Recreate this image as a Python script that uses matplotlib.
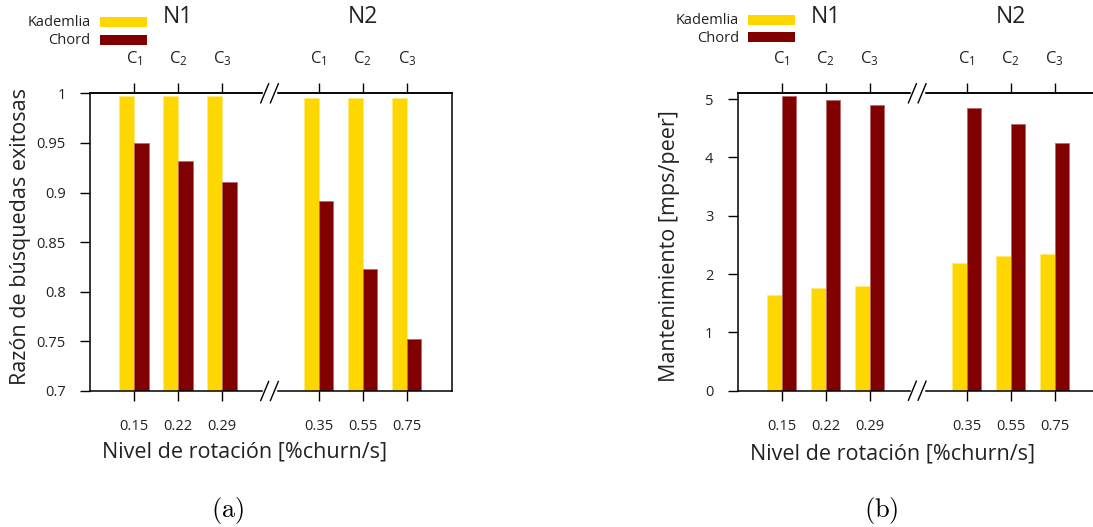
import matplotlib
matplotlib.use("Agg")
import matplotlib.pyplot as plt
from matplotlib.patches import Rectangle

# churn levels for the two networks (N1 / N2), configurations C1..C3 each
churn_labels = ["0.15", "0.22", "0.29", "0.35", "0.55", "0.75"]
config_labels = [r"C$_1$", r"C$_2$", r"C$_3$", r"C$_1$", r"C$_2$", r"C$_3$"]

# (a) ratio of successful lookups
kad_success = [0.997, 0.997, 0.997, 0.995, 0.995, 0.995]
chord_success = [0.950, 0.932, 0.911, 0.891, 0.823, 0.752]

# (b) maintenance traffic [msgs/peer]
kad_maint = [1.64, 1.755, 1.80, 2.19, 2.31, 2.345]
chord_maint = [5.05, 4.98, 4.90, 4.85, 4.57, 4.25]

KAD_COLOR = "#ffd700"
CHORD_COLOR = "#800000"
TEXT_COLOR = "#222222"
W, H = 1093, 527

plt.rcParams["font.family"] = ["Open Sans", "DejaVu Sans"]
plt.rcParams["mathtext.fontset"] = "custom"
plt.rcParams["mathtext.rm"] = "Open Sans"
plt.rcParams["mathtext.it"] = "Open Sans:italic"
plt.rcParams["text.color"] = TEXT_COLOR
plt.rcParams["xtick.labelcolor"] = TEXT_COLOR
plt.rcParams["ytick.labelcolor"] = TEXT_COLOR
plt.rcParams["axes.labelcolor"] = TEXT_COLOR

# x positions: two groups of three with a gap for the axis break
pos = [1, 2, 3, 5.2, 6.2, 7.2]
bar_w = 0.33
x_break = 4.08


def fx(px):
    return px / W


def fy(py):
    return 1 - py / H


def draw_panel(ax, kad, chord, ylim, yticks, yticklabels, ylabel, ylab_xy, xlab_xy):
    ax.bar([p - bar_w for p in pos], kad, width=bar_w, align="edge",
           color=KAD_COLOR, edgecolor="#ffe97a", linewidth=0.6, zorder=2)
    ax.bar(pos, chord, width=bar_w, align="edge",
           color=CHORD_COLOR, edgecolor="#b86a6a", linewidth=0.6, zorder=2)

    ax.set_xlim(0, 8.22)
    ax.set_ylim(*ylim)
    ax.set_yticks(yticks, labels=yticklabels)
    ax.set_xticks(pos, labels=churn_labels)
    ax.tick_params(axis="x", direction="out", length=7.5, width=1.0, pad=13, labelsize=10.5)
    ax.tick_params(axis="y", direction="out", length=7.5, width=1.0, pad=10, labelsize=10.5)
    for s in ax.spines.values():
        s.set_linewidth(1.1)

    top = ax.secondary_xaxis("top")
    top.set_xticks(pos, labels=config_labels)
    top.tick_params(direction="out", length=7.5, width=1.0, pad=11, labelsize=12)
    top.spines["top"].set_linewidth(1.1)

    ax.set_ylabel(ylabel, fontsize=15.5)
    ax.yaxis.set_label_coords(*ylab_xy)
    ax.set_xlabel("Nivel de rotación [%churn/s]", fontsize=15.5, va="top")
    ax.xaxis.set_label_coords(*xlab_xy)

    trans = ax.get_xaxis_transform()
    ax.text(2, 1.257, "N1", transform=trans, ha="center", va="center", fontsize=16.5)
    ax.text(6.2, 1.257, "N2", transform=trans, ha="center", va="center", fontsize=16.5)

    # axis-break marks on the top and bottom frame
    for yb in (0, 1):
        ax.plot([x_break - 0.12, x_break + 0.12], [yb, yb], color="white", lw=2.5,
                transform=trans, clip_on=False, zorder=5)
        for dx in (-0.11, 0.11):
            ax.plot([x_break + dx - 0.09, x_break + dx + 0.09], [yb - 0.032, yb + 0.032],
                    color="black", lw=1.0, transform=trans, clip_on=False, zorder=6)


def draw_key(fig, text_right, rect_left, rows):
    for label, color, ty, ry in rows:
        fig.text(fx(text_right), fy(ty), label, ha="right", va="center", fontsize=10.5)
        fig.add_artist(Rectangle((fx(rect_left), fy(ry + 9.5)), fx(47), 9.5 / H,
                                 transform=fig.transFigure, facecolor=color,
                                 edgecolor=color, linewidth=0))


fig = plt.figure(figsize=(W / 100, H / 100), dpi=100)
ax_a = fig.add_axes([fx(90), fy(391), fx(361.7), 297.7 / H])
ax_b = fig.add_axes([fx(737.7), fy(390.7), fx(361.7), 297.4 / H])

draw_panel(ax_a, kad_success, chord_success, (0.7, 1.0),
           [0.7, 0.75, 0.8, 0.85, 0.9, 0.95, 1.0],
           ["0.7", "0.75", "0.8", "0.85", "0.9", "0.95", "1"],
           "Razón de búsquedas exitosas", (-0.163, 0.52), (0.426, -0.17))
draw_panel(ax_b, kad_maint, chord_maint, (0, 5.1),
           [0, 1, 2, 3, 4, 5], ["0", "1", "2", "3", "4", "5"],
           "Mantenimiento [mps/peer]", (-0.16, 0.485), (0.429, -0.178))

draw_key(fig, 90.7, 100, [("Kademlia", KAD_COLOR, 22.7, 17.3), ("Chord", CHORD_COLOR, 40, 35)])
draw_key(fig, 739, 747.7, [("Kademlia", KAD_COLOR, 20.5, 15), ("Chord", CHORD_COLOR, 38.3, 32.3)])

fig.text(fx(228), fy(510), r"$\mathrm{(a)}$", ha="center", va="center",
         fontsize=19, math_fontfamily="cm", color="black")
fig.text(fx(881), fy(510), r"$\mathrm{(b)}$", ha="center", va="center",
         fontsize=19, math_fontfamily="cm", color="black")

fig.savefig("out.png", dpi=100)
